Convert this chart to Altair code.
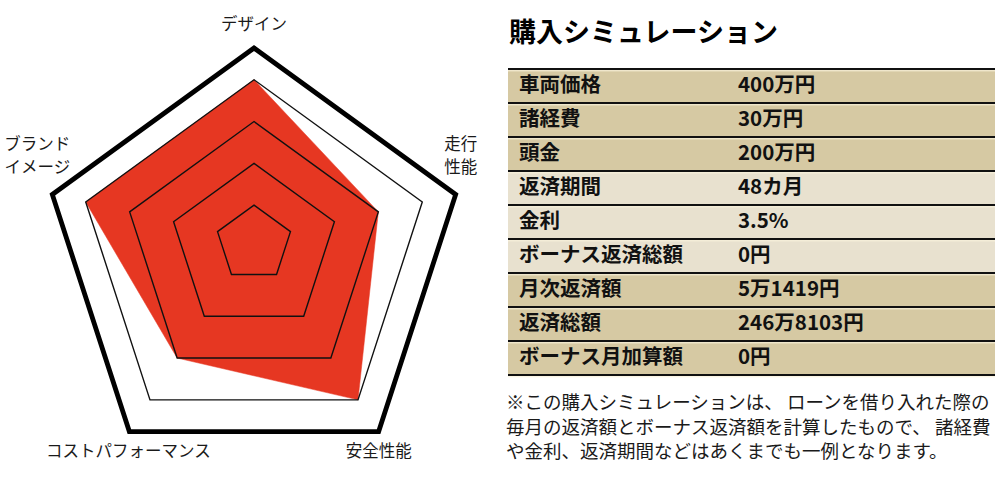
import math
import altair as alt
import pandas as pd

# ---------------- data ----------------
AXES = ["デザイン", "走行\n性能", "安全性能", "コストパフォーマンス", "ブランド\nイメージ"]
SCORES = [4, 3, 4, 3, 4]
GRID_LEVELS = [1, 2, 3, 4]
FRAME_LEVEL = 4.76
LEVEL_ORIGIN = 0.17

ROW_LABELS = ["車両価格", "諸経費", "頭金", "返済期間", "金利",
              "ボーナス返済総額", "月次返済額", "返済総額", "ボーナス月加算額"]
ROW_VALUES = ["400万円", "30万円", "200万円", "48カ月", "3.5%",
              "0円", "5万1419円", "246万8103円", "0円"]
ROW_SHADE = ["濃", "濃", "濃", "淡", "淡", "淡", "濃", "濃", "濃"]
TITLE = "購入シミュレーション"
FOOTNOTE = [
    "※この購入シミュレーションは、 ローンを借り入れた際の",
    "毎月の返済額とボーナス返済額を計算したもので、 諸経費",
    "や金利、返済期間などはあくまでも一例となります。",
]

# ---------------- styles / layout ----------------
FONT = "Noto Sans CJK JP"
RED = "#e63722"
TAN = "#d6c9a3"
LIGHT = "#e8e1cf"
H = 498
LEFT_W, RIGHT_W = 490, 510
PX_PER_UNIT = 46.2
CX, CY = 254, 239.8          # bbox centre of the radar in px
TABLE_TOP, ROW_H = 69, 34
TX0, TX1 = 18, 505

N = len(AXES)
BBOX_SHIFT = (1 - math.cos(math.pi / N)) / 2


def ring(values, group):
    pts = []
    for i in range(N + 2):
        k = i % N
        rr = values[k] - LEVEL_ORIGIN
        ang = 2 * math.pi * k / N
        pts.append({
            "g": group, "o": i,
            "x": rr * math.sin(ang),
            "y": rr * (math.cos(ang) - BBOX_SHIFT),
        })
    return pts


grid_df = pd.DataFrame([p for lv in GRID_LEVELS for p in ring([lv] * N, lv)])
frame_df = pd.DataFrame(ring([FRAME_LEVEL] * N, 0))
score_df = pd.DataFrame(ring(SCORES, 0)[:N + 1])
label_df = pd.DataFrame(ring([FRAME_LEVEL] * N, 0)[:N])
label_df["label"] = AXES
label_df["k"] = list(range(N))

xs = alt.Scale(domain=[-CX / PX_PER_UNIT, (LEFT_W - CX) / PX_PER_UNIT], nice=False, zero=False)
ys = alt.Scale(domain=[-(H - CY) / PX_PER_UNIT, CY / PX_PER_UNIT], nice=False, zero=False)
X = alt.X("x:Q", scale=xs, axis=None)
Y = alt.Y("y:Q", scale=ys, axis=None)

fill = alt.Chart(score_df).mark_line(fill=RED, stroke=RED, strokeWidth=0.5).encode(
    x=X, y=Y, order="o:Q")
grid = alt.Chart(grid_df).mark_line(color="#111111", strokeWidth=1.4).encode(
    x=X, y=Y, detail="g:N", order="o:Q")
frame = alt.Chart(frame_df).mark_line(color="#000000", strokeWidth=4.8,
                                      strokeJoin="miter", strokeMiterLimit=10).encode(
    x=X, y=Y, order="o:Q")

LABEL_OFFSETS = {0: (0, -23), 1: (5, -49.5), 2: (0, 20), 3: (-1, 20), 4: (-15, -49.5)}
label_layers = []
for k, (dx, dy) in LABEL_OFFSETS.items():
    label_layers.append(
        alt.Chart(label_df).transform_filter(alt.datum.k == k).mark_text(
            font=FONT, fontSize=16.5, color="#1a1a1a", align="center",
            baseline="middle", lineBreak="\n", lineHeight=23, dx=dx, dy=dy
        ).encode(x=X, y=Y, text="label:N")
    )

left = alt.layer(fill, grid, frame, *label_layers).properties(width=LEFT_W, height=H)

# ---------------- right panel ----------------
table_df = pd.DataFrame({
    "row": list(range(len(ROW_LABELS))),
    "label": ROW_LABELS,
    "value": ROW_VALUES,
    "shade": ROW_SHADE,
})
bounds_df = pd.DataFrame({"b": list(range(len(ROW_LABELS) + 1))})

rs = alt.Scale(domain=[-TABLE_TOP / ROW_H, (H - TABLE_TOP) / ROW_H], reverse=True,
               nice=False, zero=False)

rects = alt.Chart(table_df).transform_calculate(row_end="datum.row + 1").mark_rect().encode(
    y=alt.Y("row:Q", scale=rs, axis=None), y2="row_end:Q",
    x=alt.value(TX0), x2=alt.value(TX1),
    color=alt.Color("shade:N", scale=alt.Scale(domain=["濃", "淡"], range=[TAN, LIGHT]), legend=None),
)
cream = alt.Chart(bounds_df).mark_rule(color="#faf3dc", strokeWidth=1, yOffset=1.8).encode(
    y=alt.Y("b:Q", scale=rs, axis=None), x=alt.value(TX0), x2=alt.value(TX1))
rules = alt.Chart(bounds_df).mark_rule(color="#111111", strokeWidth=2).encode(
    y=alt.Y("b:Q", scale=rs, axis=None), x=alt.value(TX0), x2=alt.value(TX1))
labels = alt.Chart(table_df).transform_calculate(mid="datum.row + 0.5").mark_text(
    font=FONT, fontSize=20.5, fontWeight="bold", color="#111111", align="left", baseline="middle"
).encode(y=alt.Y("mid:Q", scale=rs, axis=None), x=alt.value(29), text="label:N")
values = alt.Chart(table_df).transform_calculate(mid="datum.row + 0.5").mark_text(
    font=FONT, fontSize=20.5, fontWeight="bold", color="#111111", align="left", baseline="middle"
).encode(y=alt.Y("mid:Q", scale=rs, axis=None), x=alt.value(248), text="value:N")
title = alt.Chart(pd.DataFrame({"t": [TITLE]})).mark_text(
    font=FONT, fontSize=27, fontWeight="bold", color="#000000", align="left", baseline="middle"
).encode(x=alt.value(19), y=alt.value(34), text="t:N")
note = alt.Chart(pd.DataFrame({"t": [0]})).mark_text(
    text=FOOTNOTE, font=FONT, fontSize=18.5, color="#1a1a1a", align="left",
    baseline="middle", lineHeight=24.5
).encode(x=alt.value(16), y=alt.value(403))

right = alt.layer(rects, cream, rules, labels, values, title, note).properties(
    width=RIGHT_W, height=H)

chart = alt.hconcat(left, right, spacing=0, bounds="flush").resolve_scale(
    x="independent", y="independent", color="independent"
).configure(padding=0, background="white").configure_view(stroke=None)

chart.save("out.html", embed_options={"renderer": "svg", "actions": False})
